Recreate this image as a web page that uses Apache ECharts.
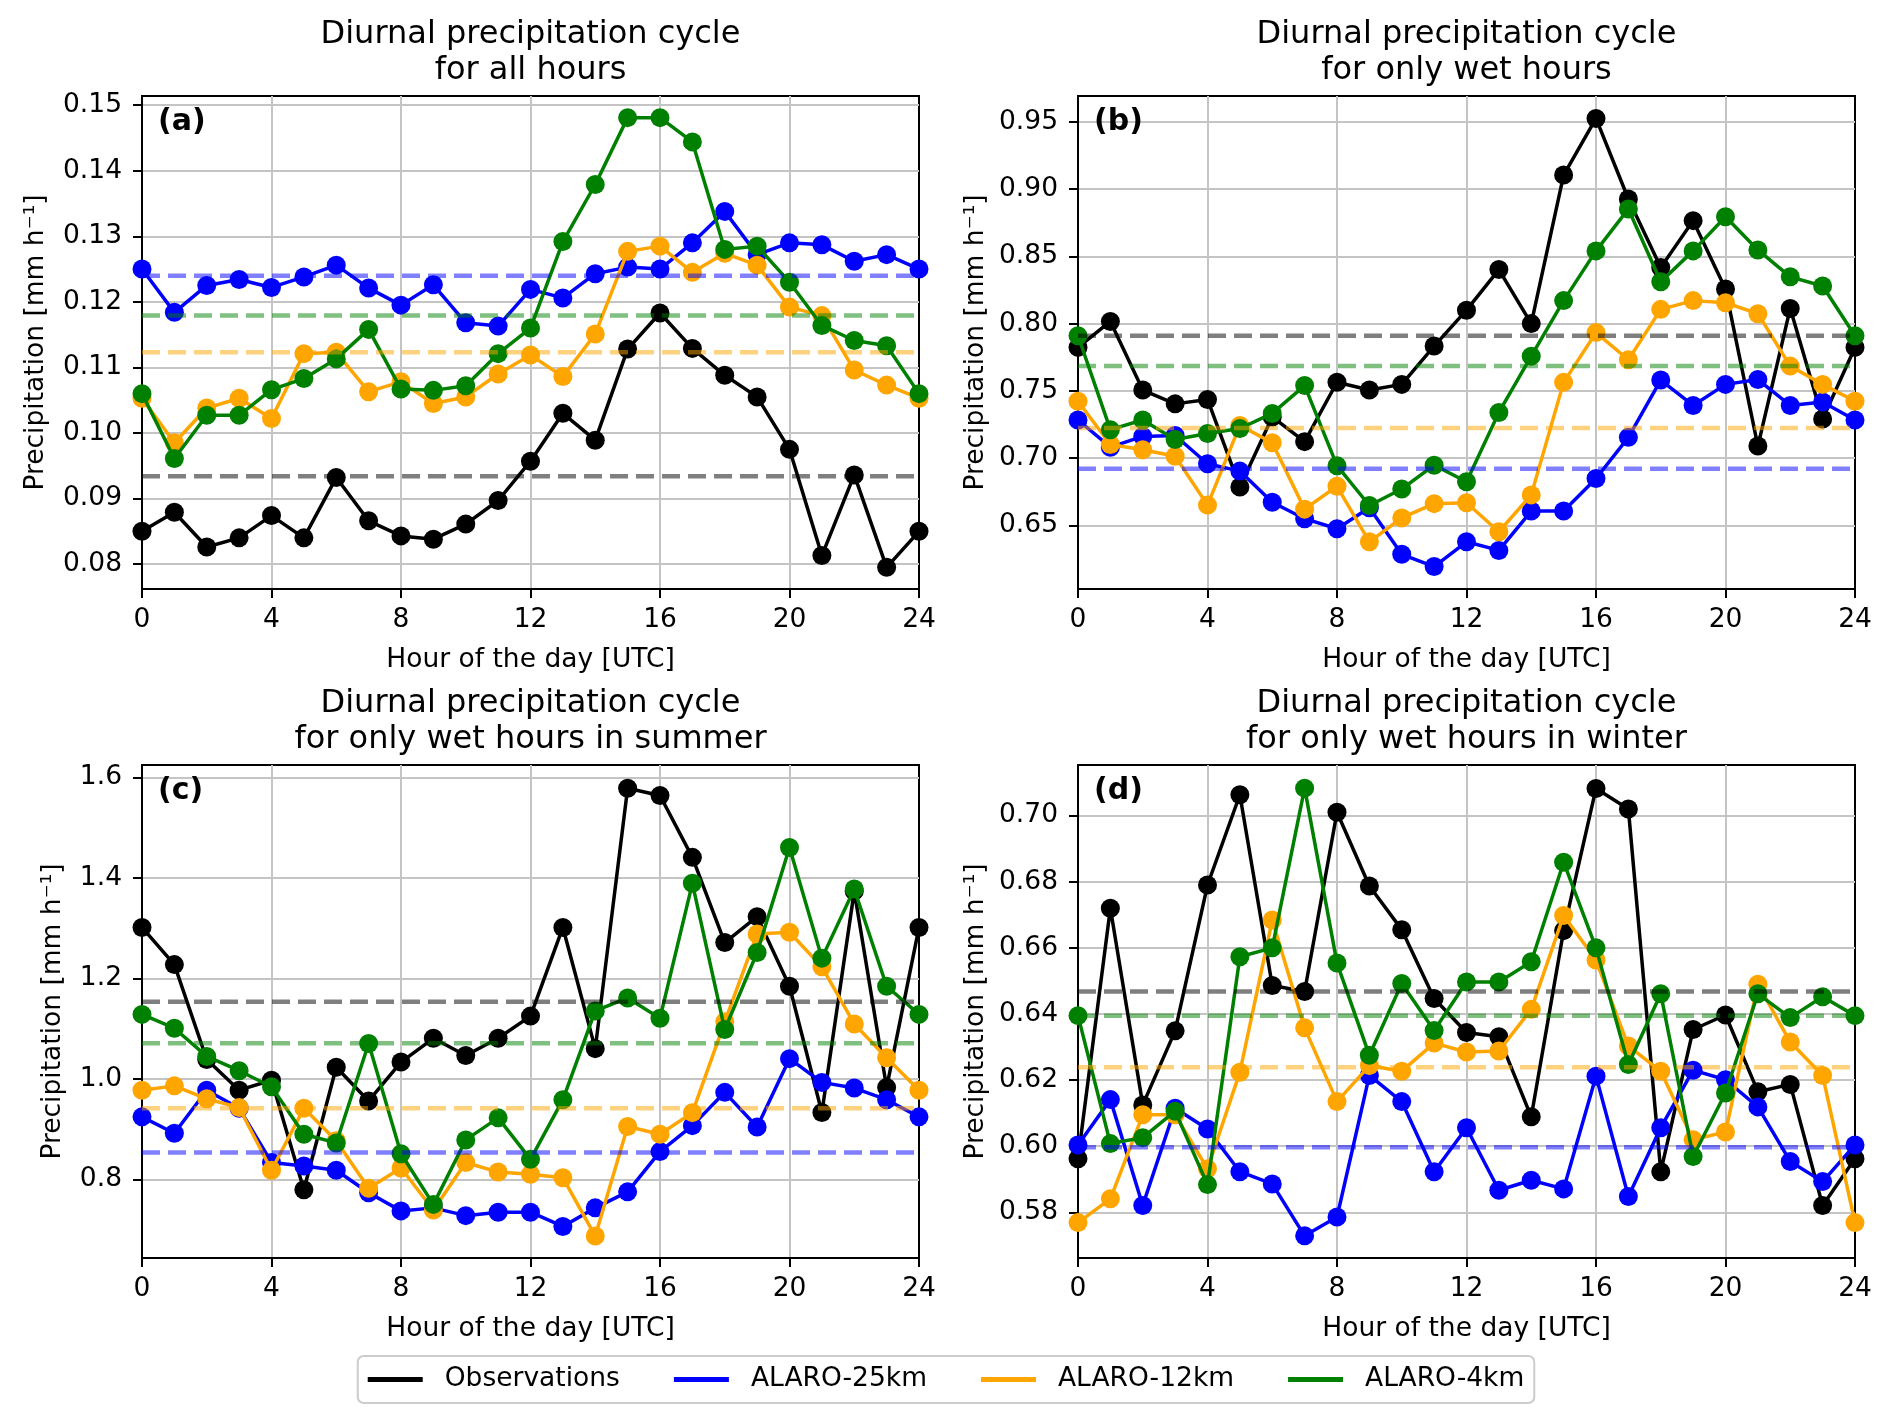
<!DOCTYPE html>
<html>
<head>
<meta charset="utf-8">
<script src="https://cdn.jsdelivr.net/npm/echarts@6/dist/echarts.min.js"></script>
<style>
html, body { margin: 0; padding: 0; background: #fff; }
#chart { width: 1892px; height: 1426px; }
</style>
</head>
<body>
<div id="chart"></div>
<script>
const hours = [0, 1, 2, 3, 4, 5, 6, 7, 8, 9, 10, 11, 12, 13, 14, 15, 16, 17, 18, 19, 20, 21, 22, 23, 24];
const names = ['Observations', 'ALARO-25km', 'ALARO-12km', 'ALARO-4km'];
const colors = ['#000000', '#0000ff', '#ffa500', '#008000'];

// (a) all hours
const obsA = [0.0850, 0.0879, 0.0826, 0.0840, 0.0874, 0.0840, 0.0932, 0.0866, 0.0843, 0.0838, 0.0861, 0.0897, 0.0957, 0.1030, 0.0989, 0.1128, 0.1183, 0.1129, 0.1088, 0.1055, 0.0975, 0.0813, 0.0936, 0.0795, 0.0850];
const a25A = [0.1250, 0.1184, 0.1225, 0.1234, 0.1222, 0.1238, 0.1256, 0.1221, 0.1195, 0.1226, 0.1168, 0.1163, 0.1219, 0.1206, 0.1243, 0.1253, 0.1250, 0.1290, 0.1338, 0.1272, 0.1290, 0.1287, 0.1262, 0.1272, 0.1250];
const a12A = [0.1053, 0.0985, 0.1038, 0.1053, 0.1022, 0.1121, 0.1123, 0.1063, 0.1078, 0.1045, 0.1055, 0.1090, 0.1119, 0.1086, 0.1151, 0.1277, 0.1285, 0.1245, 0.1274, 0.1256, 0.1192, 0.1179, 0.1096, 0.1073, 0.1053];
const a4A = [0.1060, 0.0961, 0.1027, 0.1027, 0.1066, 0.1083, 0.1113, 0.1158, 0.1067, 0.1065, 0.1072, 0.1121, 0.1160, 0.1292, 0.1379, 0.1481, 0.1481, 0.1444, 0.1280, 0.1285, 0.1230, 0.1164, 0.1141, 0.1133, 0.1060];
const meansA = [0.0934, 0.1240, 0.1123, 0.1179];
const ticksA = [0.08, 0.09, 0.10, 0.11, 0.12, 0.13, 0.14, 0.15];

// (b) only wet hours
const obsB = [0.7823, 0.8016, 0.7506, 0.7403, 0.7436, 0.6785, 0.7306, 0.7122, 0.7564, 0.7506, 0.7548, 0.7833, 0.8100, 0.8402, 0.8000, 0.9105, 0.9526, 0.8927, 0.8418, 0.8766, 0.8258, 0.7089, 0.8113, 0.7290, 0.7823];
const a25B = [0.7283, 0.7081, 0.7161, 0.7168, 0.6958, 0.6903, 0.6671, 0.6549, 0.6474, 0.6630, 0.6284, 0.6193, 0.6377, 0.6313, 0.6606, 0.6606, 0.6848, 0.7154, 0.7580, 0.7391, 0.7548, 0.7584, 0.7391, 0.7417, 0.7283];
const a12B = [0.7423, 0.7101, 0.7062, 0.7014, 0.6650, 0.7243, 0.7114, 0.6620, 0.6790, 0.6377, 0.6555, 0.6661, 0.6668, 0.6452, 0.6726, 0.7563, 0.7933, 0.7731, 0.8106, 0.8171, 0.8155, 0.8074, 0.7684, 0.7548, 0.7423];
const a4B = [0.7910, 0.7211, 0.7283, 0.7138, 0.7183, 0.7220, 0.7332, 0.7539, 0.6943, 0.6647, 0.6770, 0.6947, 0.6824, 0.7339, 0.7758, 0.8171, 0.8541, 0.8853, 0.8312, 0.8541, 0.8795, 0.8548, 0.8348, 0.8280, 0.7910];
const meansB = [0.7910, 0.6920, 0.7223, 0.7684];
const ticksB = [0.65, 0.70, 0.75, 0.80, 0.85, 0.90, 0.95];

// (c) wet hours in summer
const obsC = [1.3016, 1.2276, 1.0387, 0.9776, 0.9974, 0.7793, 1.0232, 0.9561, 1.0336, 1.0809, 1.0465, 1.0809, 1.1251, 1.3016, 1.0603, 1.5788, 1.5642, 1.4411, 1.2715, 1.3231, 1.1845, 0.9331, 1.3739, 0.9828, 1.3016];
const a25C = [0.9245, 0.8918, 0.9776, 0.9415, 0.8336, 0.8268, 0.8182, 0.7734, 0.7373, 0.7433, 0.7278, 0.7347, 0.7347, 0.7063, 0.7433, 0.7752, 0.8553, 0.9070, 0.9733, 0.9044, 1.0404, 0.9931, 0.9819, 0.9587, 0.9245];
const a12C = [0.9776, 0.9862, 0.9604, 0.9432, 0.8182, 0.9415, 0.8769, 0.7822, 0.8227, 0.7390, 0.8336, 0.8146, 0.8103, 0.8034, 0.6872, 0.9053, 0.8898, 0.9329, 1.1137, 1.2887, 1.2921, 1.2232, 1.1094, 1.0422, 0.9776];
const a4C = [1.1285, 1.1010, 1.0448, 1.0164, 0.9845, 0.8898, 0.8726, 1.0706, 0.8511, 0.7502, 0.8786, 0.9225, 0.8399, 0.9587, 1.1354, 1.1613, 1.1209, 1.3894, 1.0984, 1.2517, 1.4609, 1.2405, 1.3782, 1.1845, 1.1285];
const meansC = [1.1535, 0.8533, 0.9415, 1.0709];
const ticksC = [0.8, 1.0, 1.2, 1.4, 1.6];

// (d) wet hours in winter
const obsD = [0.5962, 0.6720, 0.6125, 0.6349, 0.6790, 0.7063, 0.6486, 0.6468, 0.7010, 0.6787, 0.6655, 0.6447, 0.6344, 0.6331, 0.6089, 0.6652, 0.7082, 0.7020, 0.5923, 0.6353, 0.6397, 0.6165, 0.6187, 0.5821, 0.5962];
const a25D = [0.6004, 0.6141, 0.5821, 0.6115, 0.6052, 0.5923, 0.5886, 0.5729, 0.5786, 0.6214, 0.6135, 0.5923, 0.6056, 0.5867, 0.5897, 0.5871, 0.6212, 0.5848, 0.6056, 0.6230, 0.6201, 0.6119, 0.5954, 0.5893, 0.6004];
const a12D = [0.5769, 0.5841, 0.6095, 0.6095, 0.5932, 0.6224, 0.6684, 0.6358, 0.6135, 0.6244, 0.6227, 0.6312, 0.6285, 0.6288, 0.6414, 0.6698, 0.6563, 0.6303, 0.6227, 0.6020, 0.6043, 0.6490, 0.6315, 0.6214, 0.5769];
const a4D = [0.6395, 0.6008, 0.6026, 0.6106, 0.5884, 0.6573, 0.6600, 0.7083, 0.6554, 0.6275, 0.6492, 0.6350, 0.6497, 0.6497, 0.6558, 0.6859, 0.6600, 0.6247, 0.6461, 0.5969, 0.6161, 0.6461, 0.6389, 0.6452, 0.6395];
const meansD = [0.6468, 0.5997, 0.6239, 0.6395];
const ticksD = [0.58, 0.60, 0.62, 0.64, 0.66, 0.68, 0.70];

const FONT = 'DejaVu Sans';

const panels = [
  { title: 'Diurnal precipitation cycle\nfor all hours', tag: '(a)', lists: [obsA, a25A, a12A, a4A], means: meansA,
    ticks: ticksA, min: 0.0762, max: 0.1514, dec: 2, left: 142, top: 96, nameGap: 92 },
  { title: 'Diurnal precipitation cycle\nfor only wet hours', tag: '(b)', lists: [obsB, a25B, a12B, a4B], means: meansB,
    ticks: ticksB, min: 0.6026, max: 0.9693, dec: 2, left: 1078, top: 96, nameGap: 88 },
  { title: 'Diurnal precipitation cycle\nfor only wet hours in summer', tag: '(c)', lists: [obsC, a25C, a12C, a4C], means: meansC,
    ticks: ticksC, min: 0.6435, max: 1.6250, dec: 1, left: 142, top: 765, nameGap: 75 },
  { title: 'Diurnal precipitation cycle\nfor only wet hours in winter', tag: '(d)', lists: [obsD, a25D, a12D, a4D], means: meansD,
    ticks: ticksD, min: 0.5662, max: 0.7153, dec: 2, left: 1078, top: 765, nameGap: 88 }
];
const W = 777, H = 493;

const grid = [], xAxis = [], yAxis = [], series = [], graphic = [];

panels.forEach((p, idx) => {
  grid.push({ left: p.left, top: p.top, width: W, height: H, show: true,
    borderColor: '#000', borderWidth: 2, backgroundColor: 'transparent' });

  xAxis.push({
    type: 'value', gridIndex: idx, min: 0, max: 24, interval: 4,
    name: 'Hour of the day [UTC]', nameLocation: 'middle', nameGap: 58,
    nameTextStyle: { fontSize: 26.5, color: '#000', fontFamily: FONT },
    axisLine: { show: true, onZero: false, lineStyle: { color: '#000', width: 2 } },
    axisTick: { show: true, length: 9, lineStyle: { color: '#000', width: 2 } },
    axisLabel: { fontSize: 26.5, color: '#000', fontFamily: FONT, margin: 18 },
    splitLine: { show: true, showMinLine: false, showMaxLine: false, lineStyle: { color: '#c4c4c4', width: 2 } }
  });

  yAxis.push({
    type: 'value', gridIndex: idx, min: p.min, max: p.max,
    name: 'Precipitation [mm h⁻¹]', nameLocation: 'middle', nameGap: p.nameGap, nameRotate: 90,
    nameMoveOverlap: false,
    nameTextStyle: { fontSize: 26.5, color: '#000', fontFamily: FONT },
    axisLine: { show: true, onZero: false, lineStyle: { color: '#000', width: 2 } },
    axisTick: { show: true, length: 9, customValues: p.ticks, lineStyle: { color: '#000', width: 2 } },
    axisLabel: { fontSize: 26.5, color: '#000', fontFamily: FONT, margin: 20, customValues: p.ticks,
      formatter: v => v.toFixed(p.dec) },
    splitLine: { show: true, lineStyle: { color: '#c4c4c4', width: 2 } }
  });

  p.lists.forEach((vals, k) => {
    series.push({
      name: names[k], type: 'line', xAxisIndex: idx, yAxisIndex: idx,
      data: hours.map((h, i) => [h, vals[i]]),
      symbol: 'circle', symbolSize: 19, showSymbol: true,
      color: colors[k],
      itemStyle: { color: colors[k], borderWidth: 0 },
      lineStyle: { color: colors[k], width: 3.5 },
      z: 3 + k, animation: false, silent: true
    });
  });

  p.means.forEach((m, k) => {
    series.push({
      type: 'line', xAxisIndex: idx, yAxisIndex: idx,
      data: [[0, m], [24, m]],
      symbol: 'none',
      lineStyle: { color: colors[k], width: 4.5, type: [18, 8], opacity: 0.5 },
      z: 10, animation: false, silent: true
    });
  });

  graphic.push({
    type: 'text', x: p.left + W / 2, y: p.top - 79, z: 100,
    style: { text: p.title, align: 'center', verticalAlign: 'top', fontSize: 32,
      lineHeight: 36, fontFamily: FONT, fill: '#000' }
  });
  graphic.push({
    type: 'text', x: p.left + 16, y: p.top + 26, z: 100,
    style: { text: p.tag, align: 'left', verticalAlign: 'middle', fontSize: 30,
      fontWeight: 'bold', fontFamily: FONT, fill: '#000' }
  });
});

const chart = echarts.init(document.getElementById('chart'));
chart.setOption({
  backgroundColor: '#fff',
  animation: false,
  grid, xAxis, yAxis, series, graphic,
  legend: {
    data: names, left: 'center', top: 1356, icon: 'rect', itemWidth: 55, itemHeight: 5, itemGap: 54,
    backgroundColor: '#fff', borderColor: '#cccccc', borderWidth: 2, borderRadius: 6, padding: [10, 10],
    textStyle: { fontSize: 26.5, color: '#000', fontFamily: FONT, padding: [0, 0, 0, 17] },
    selectedMode: false
  }
});
</script>
</body>
</html>
